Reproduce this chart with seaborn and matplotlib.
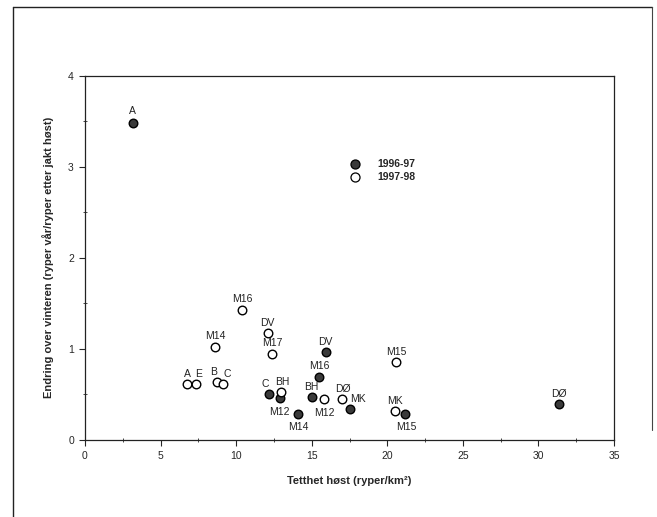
import matplotlib
matplotlib.use('Agg')
import matplotlib.pyplot as plt
import seaborn as sns
import pandas as pd
from matplotlib.lines import Line2D
from matplotlib.ticker import MultipleLocator

# ---- data ----
sites_9697 = ['A', 'C', 'M12', 'M14', 'BH', 'M16', 'DV', 'MK', 'M15', 'DØ']
x_9697 = [3.15, 12.20, 12.91, 14.11, 14.99, 15.50, 15.92, 17.52, 21.20, 31.35]
y_9697 = [3.48, 0.50, 0.46, 0.285, 0.47, 0.69, 0.97, 0.34, 0.285, 0.40]

sites_9798 = ['A', 'E', 'B', 'C', 'M14', 'M16', 'DV', 'M17', 'BH', 'M12', 'DØ', 'MK', 'M15']
x_9798 = [6.77, 7.37, 8.76, 9.10, 8.60, 10.38, 12.09, 12.38, 12.97, 15.82, 17.01, 20.51, 20.58]
y_9798 = [0.61, 0.61, 0.64, 0.61, 1.02, 1.43, 1.17, 0.94, 0.53, 0.45, 0.45, 0.32, 0.86]

seasons = ['1996-97', '1997-98']
x_ticks = [0, 5, 10, 15, 20, 25, 30, 35]
y_ticks = [0, 1, 2, 3, 4]
x_label = 'Tetthet høst (ryper/km²)'
y_label = 'Endring over vinteren (ryper vår/ryper etter jakt høst)'

# label offsets in pixels (dx, dy)
off_9697 = [(0, 12), (-4, 10), (-1, -14), (0, -13), (0, 10), (0, 11), (0, 10), (8, 10), (1, -13), (0, 10)]
off_9798 = [(0, 10), (2, 10), (-4, 10), (5, 10), (0, 11), (0, 11), (0, 10), (0, 11), (1, 10), (0, -14), (1, 10), (0, 10), (0, 10)]

sns.set_style('ticks')
plt.rcParams['font.family'] = ['Liberation Sans', 'DejaVu Sans']

df = pd.DataFrame({
    'x': x_9697 + x_9798,
    'y': y_9697 + y_9798,
    'site': sites_9697 + sites_9798,
    'season': [seasons[0]] * len(x_9697) + [seasons[1]] * len(x_9798),
})

fig = plt.figure(figsize=(6.57, 5.17), dpi=100)
ax = fig.add_axes([85 / 657, 77 / 517, 529 / 657, 364.3 / 517])

face = {seasons[0]: '#3a3a3a', seasons[1]: 'white'}
for s in seasons:
    sub = df[df['season'] == s]
    sns.scatterplot(data=sub, x='x', y='y', ax=ax, s=38, color=face[s],
                    edgecolor='black', linewidth=1.0, legend=False, zorder=3)

for sites, xs, ys, offs in [(sites_9697, x_9697, y_9697, off_9697),
                            (sites_9798, x_9798, y_9798, off_9798)]:
    for name, xv, yv, (dx, dy) in zip(sites, xs, ys, offs):
        ax.annotate(name, (xv, yv), xytext=(dx, dy), textcoords='offset pixels',
                    ha='center', va='center', fontsize=7.5, color='#222222')

ax.set_xlim(0, 35)
ax.set_ylim(0, 4)
ax.set_xticks(x_ticks)
ax.set_yticks(y_ticks)
ax.xaxis.set_minor_locator(MultipleLocator(2.5))
ax.yaxis.set_minor_locator(MultipleLocator(0.5))
ax.tick_params(which='major', direction='out', length=4, width=0.8, labelsize=7.5, pad=4)
ax.tick_params(which='minor', direction='inout', length=3, width=0.6)
for sp in ax.spines.values():
    sp.set_visible(True)
    sp.set_linewidth(0.9)
    sp.set_color('#222222')

ax.set_xlabel(x_label, fontsize=8, fontweight='bold', labelpad=11)
ax.set_ylabel(y_label, fontsize=8, fontweight='bold', labelpad=10)

handles = [
    Line2D([], [], marker='o', linestyle='', markersize=6.5, markerfacecolor=face[seasons[0]],
           markeredgecolor='black', markeredgewidth=0.9),
    Line2D([], [], marker='o', linestyle='', markersize=6.5, markerfacecolor=face[seasons[1]],
           markeredgecolor='black', markeredgewidth=0.9),
]
leg = ax.legend(handles, seasons, loc='upper left', bbox_to_anchor=(0.48, 0.785),
                frameon=False, handletextpad=1.2, labelspacing=0.3, borderpad=0,
                prop={'size': 7.5, 'weight': 'bold'})

# page frame (scanned figure border)
fig.add_artist(Line2D([13 / 657, 13 / 657], [0, 1 - 7 / 517], transform=fig.transFigure, color='#222222', lw=1.0))
fig.add_artist(Line2D([13 / 657, 652 / 657], [1 - 7 / 517, 1 - 7 / 517], transform=fig.transFigure, color='#222222', lw=1.0))
fig.add_artist(Line2D([652 / 657, 652 / 657], [1 - 7 / 517, 1 - 430 / 517], transform=fig.transFigure, color='#444444', lw=0.8))

fig.savefig('out.png', dpi=100)
